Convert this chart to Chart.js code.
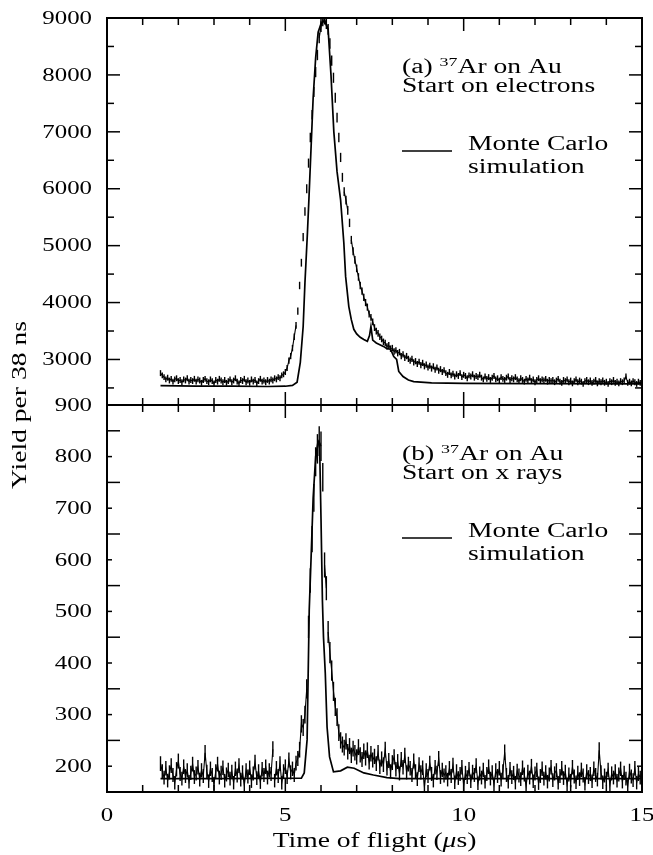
<!DOCTYPE html>
<html>
<head>
<meta charset="utf-8">
<script src="https://cdn.jsdelivr.net/npm/chart.js@4"></script>
<style>
html, body { margin: 0; padding: 0; background: #fff; }
#wrap { position: relative; width: 653px; height: 855px; }
canvas { position: absolute; left: 0; top: 0; width: 653px; height: 855px; }
</style>
</head>
<body>
<div id="wrap">
  <canvas id="chartA" width="653" height="855"></canvas>
  <canvas id="chartB" width="653" height="855"></canvas>
</div>
<script>
// time bins (us), regrouped from the 38 ns channels
var binStart = 1.5, binWidth = 0.05;

// (a) start on electrons - measured yield, one value per bin from 1.5 to 15.0 us
var yieldA = [
  2760, 2720, 2690, 2650, 2680, 2630, 2660, 2610, 2650, 2670, 2620, 2640, 2600, 2650, 2630, 2670, 2610, 2640, 2620, 2660,
  2610, 2650, 2630, 2590, 2640, 2660, 2620, 2600, 2650, 2620, 2580, 2640, 2610, 2660, 2630, 2600, 2640, 2590, 2620, 2650,
  2600, 2630, 2670, 2610, 2580, 2640, 2620, 2660, 2600, 2630, 2590, 2650, 2610, 2640, 2580, 2620, 2660, 2610, 2630, 2600,
  2640, 2610, 2650, 2630, 2670, 2650, 2690, 2670, 2720, 2740, 2780, 2850, 2980, 3060, 3200, 3400, 3600, 3850, 4300, 4700,
  5150, 5600, 6000, 6450, 6900, 7300, 7700, 8050, 8350, 8650, 8850, 8950, 8980, 8900, 8800, 8550, 8250, 7950, 7600, 7250,
  6900, 6550, 6200, 5950, 5800, 5620, 5400, 5100, 4900, 4750, 4600, 4450, 4300, 4200, 4090, 4000, 3920, 3800, 3740, 3660,
  3560, 3500, 3460, 3400, 3360, 3310, 3290, 3230, 3250, 3190, 3200, 3140, 3160, 3110, 3130, 3060, 3090, 3030, 3060, 3010,
  2980, 3010, 2950, 2970, 2920, 2960, 2900, 2940, 2880, 2910, 2860, 2890, 2840, 2880, 2820, 2860, 2800, 2830, 2780, 2810,
  2760, 2730, 2780, 2720, 2750, 2700, 2740, 2710, 2760, 2690, 2730, 2710, 2670, 2720, 2700, 2740, 2680, 2710, 2690, 2730,
  2680, 2650, 2700, 2660, 2690, 2640, 2680, 2710, 2650, 2670, 2630, 2690, 2660, 2640, 2680, 2700, 2640, 2670, 2650, 2690,
  2650, 2620, 2670, 2640, 2610, 2660, 2630, 2680, 2620, 2650, 2600, 2640, 2670, 2620, 2650, 2630, 2660, 2610, 2640, 2620,
  2640, 2600, 2630, 2660, 2610, 2590, 2640, 2620, 2650, 2600, 2630, 2580, 2620, 2650, 2600, 2630, 2610, 2570, 2620, 2640,
  2600, 2630, 2590, 2610, 2640, 2580, 2620, 2600, 2630, 2590, 2610, 2570, 2620, 2600, 2640, 2590, 2610, 2580, 2620, 2600,
  2630, 2700, 2590, 2610, 2580, 2620, 2600, 2570, 2610, 2590, 2620
];

// (b) start on x rays - measured yield, same bins
var yieldB = [
  205, 190, 178, 196, 172, 188, 201, 183, 168, 194, 210, 185, 176, 199, 181, 192, 170, 187, 204, 179,
  186, 198, 174, 192, 181, 226, 189, 171, 195, 183, 166, 190, 204, 178, 187, 197, 172, 184, 193, 176,
  189, 168, 195, 182, 201, 174, 188, 163, 192, 180, 197, 171, 186, 208, 177, 190, 169, 194, 183, 199,
  178, 192, 185, 233, 172, 196, 181, 205, 168, 190, 199, 179, 212, 188, 195, 183, 206, 215, 232, 282,
  275, 300, 350, 470, 560, 640, 720, 790, 815, 830, 820, 760, 590, 545, 460, 420, 385, 345, 315, 295,
  265, 250, 242, 236, 248, 228, 239, 221, 234, 226, 218, 237, 222, 213, 229, 216, 231, 208, 224, 212,
  219, 205, 226, 199, 214, 203, 232, 196, 211, 190, 207, 218, 194, 209, 186, 213, 198, 221, 188, 204,
  196, 183, 210, 190, 175, 203, 188, 197, 160, 192, 181, 206, 185, 172, 198, 187, 215, 179, 193, 182,
  188, 174, 196, 181, 202, 169, 190, 177, 185, 198, 163, 187, 179, 194, 171, 189, 183, 201, 167, 186,
  178, 193, 170, 185, 199, 176, 188, 165, 192, 181, 196, 174, 190, 227, 183, 170, 194, 179, 187, 168,
  191, 182, 175, 197, 184, 162, 189, 178, 200, 171, 186, 193, 167, 181, 195, 176, 188, 170, 184, 198,
  173, 186, 192, 168, 181, 196, 177, 189, 165, 184, 172, 198, 180, 169, 187, 175, 193, 182, 166, 190,
  179, 185, 171, 195, 183, 174, 231, 188, 169, 182, 176, 193, 164, 186, 178, 190, 172, 184, 195, 170,
  187, 176, 162, 191, 180, 173, 196, 168, 185, 178, 190
];

// Monte Carlo simulation curves
var simAx = [1.5, 2.5, 3.5, 4.5, 5.0, 5.2, 5.33, 5.42, 5.5, 5.55, 5.62, 5.66, 5.72, 5.78, 5.85, 5.92, 6.0, 6.1, 6.2, 6.28,
             6.36, 6.45, 6.55, 6.64, 6.69, 6.78, 6.85, 6.92, 7.0, 7.1, 7.2, 7.3, 7.36, 7.4, 7.45, 7.55, 7.65, 7.75, 7.85, 7.95,
             8.04, 8.12, 8.18, 8.3, 8.45, 8.6, 9.1, 10, 12, 15];
var simAy = [2540, 2530, 2530, 2525, 2530, 2545, 2600, 2950, 3580, 4350, 5230, 5800, 6700, 7600, 8300, 8750, 8900, 8950, 8800, 8000,
             7000, 6300, 5800, 5050, 4460, 3930, 3700, 3530, 3450, 3390, 3350, 3320, 3420, 3580, 3340, 3290, 3260, 3230, 3190, 3180,
             3050, 3000, 2790, 2700, 2640, 2610, 2590, 2580, 2575, 2570];
var simBx = [1.5, 3, 5.45, 5.53, 5.61, 5.67, 5.72, 5.78, 5.85, 5.92, 5.96, 6.0, 6.04, 6.07, 6.12, 6.17, 6.24, 6.35, 6.55, 6.74,
             6.93, 7.2, 7.47, 7.85, 8.2, 10, 15];
var simBy = [176, 176, 177, 187, 251, 503, 600, 720, 800, 830, 825, 680, 520, 450, 380, 276, 218, 189, 191, 198,
             196, 187, 183, 178, 176, 176, 176];

// axes
var xTicks = [0, 5, 10, 15];
var yTicksA = [3000, 4000, 5000, 6000, 7000, 8000, 9000];
var yTicksB = [200, 300, 400, 500, 600, 700, 800, 900];

var SX = 1.38;   // the original lettering is wide
var FONT = '"Liberation Serif", "Times New Roman", serif';

function txt(ctx, s, x, y, size, align, base, italic) {
    ctx.save();
    ctx.translate(x, y);
    ctx.scale(SX, 1);
    ctx.font = (italic ? 'italic ' : '') + size + 'px ' + FONT;
    ctx.textAlign = align || 'left';
    ctx.textBaseline = base || 'alphabetic';
    ctx.fillStyle = '#000';
    ctx.fillText(s, 0, 0);
    var w = ctx.measureText(s).width * SX;
    ctx.restore();
    return w;
}

function seg(ctx, x1, y1, x2, y2) {
    ctx.beginPath();
    ctx.moveTo(x1, y1);
    ctx.lineTo(x2, y2);
    ctx.stroke();
}

// frame, inward ticks and all lettering
var framePlugin = {
    id: 'frame',
    afterDraw: function(chart, args, o) {
        var ctx = chart.ctx, a = chart.chartArea, x = chart.scales.x, y = chart.scales.y;
        ctx.save();
        ctx.strokeStyle = '#000';

        ctx.lineWidth = 1.5;
        // x ticks every microsecond, top and bottom
        for (var t = 1; t < 15; t++) {
            var px = x.getPixelForValue(t);
            var len = (t % 5 === 0) ? 13 : 7;
            seg(ctx, px, a.top, px, a.top + len);
            seg(ctx, px, a.bottom, px, a.bottom - len);
        }
        // y ticks, labelled ones and halfway ones
        o.labels.forEach(function(v) {
            var py = y.getPixelForValue(v);
            seg(ctx, a.left, py, a.left + o.majorLen, py);
            seg(ctx, a.right, py, a.right - o.majorLen, py);
            var pm = y.getPixelForValue(v - o.half);
            if (pm < a.bottom - 2) {
                seg(ctx, a.left, pm, a.left + o.minorLen, pm);
                seg(ctx, a.right, pm, a.right - o.minorLen, pm);
            }
            txt(ctx, String(v), 92, py + 1, 18, 'right', 'middle');
        });

        ctx.lineWidth = 2;
        ctx.strokeRect(a.left, a.top, a.right - a.left, a.bottom - a.top);

        // panel note and legend
        var top = a.top, nx = 402;
        var w = txt(ctx, o.tag + ' ', nx, top + 55, 20);
        w += txt(ctx, '37', nx + w, top + 48, 13);
        txt(ctx, 'Ar on Au', nx + w, top + 55, 20);
        txt(ctx, o.start, nx, top + 74, 20);
        ctx.lineWidth = 1.6;
        seg(ctx, nx, top + 133, nx + 50, top + 133);
        txt(ctx, 'Monte Carlo', 468, top + 132, 20);
        txt(ctx, 'simulation', 468, top + 155, 20);

        if (o.bottomAxis) {
            xTicks.forEach(function(v) {
                txt(ctx, String(v), x.getPixelForValue(v), a.bottom + 24, 18, 'center', 'middle');
            });
            // x title with italic mu
            ctx.font = '20px ' + FONT;
            var w1 = ctx.measureText('Time of flight (').width * SX;
            var w3 = ctx.measureText('s)').width * SX;
            ctx.font = 'italic 20px ' + FONT;
            var w2 = ctx.measureText('\u03bc').width * SX;
            var sx = (a.left + a.right) / 2 - (w1 + w2 + w3) / 2;
            txt(ctx, 'Time of flight (', sx, 847, 20);
            txt(ctx, '\u03bc', sx + w1, 847, 20, 'left', 'alphabetic', true);
            txt(ctx, 's)', sx + w1 + w2, 847, 20);
            // y title, centred on the whole figure
            ctx.save();
            ctx.translate(21, 405);
            ctx.rotate(-Math.PI / 2);
            ctx.scale(SX, 1);
            ctx.font = '20px ' + FONT;
            ctx.textAlign = 'center';
            ctx.textBaseline = 'middle';
            ctx.fillStyle = '#000';
            ctx.fillText('Yield per 38 ns', 0, 0);
            ctx.restore();
        }
        ctx.restore();
    }
};

function toPoints(vals) {
    return vals.map(function(v, i) { return { x: binStart + i * binWidth, y: v }; });
}
function pairUp(xs, ys) {
    return xs.map(function(v, i) { return { x: v, y: ys[i] }; });
}

function makeChart(id, yields, simX, simY, yMin, yMax, padTop, padBottom, gap, panel) {
    return new Chart(document.getElementById(id), {
        type: 'scatter',
        data: {
            datasets: [{
                data: toPoints(yields),
                showLine: true,
                borderColor: '#000',
                borderWidth: 1.1,
                pointStyle: 'line',
                rotation: 90,
                pointBorderColor: '#000',
                pointBorderWidth: 1.4,
                // statistical error bar sqrt(N) drawn as a vertical dash
                pointRadius: function(c) {
                    var s = c.chart.scales.y, v = c.parsed ? c.parsed.y : 0;
                    if (!s || !(v > 0)) return 2;
                    return Math.max(2, Math.abs(s.getPixelForValue(v) - s.getPixelForValue(v + Math.sqrt(v))));
                },
                segment: {
                    borderColor: function(c) { return Math.abs(c.p1.y - c.p0.y) > gap ? 'rgba(0,0,0,0)' : '#000'; }
                },
                clip: 0
            }, {
                data: pairUp(simX, simY),
                showLine: true,
                borderColor: '#000',
                borderWidth: 1.7,
                pointRadius: 0,
                clip: 0
            }]
        },
        options: {
            responsive: false,
            animation: false,
            events: [],
            layout: { padding: { left: 107, right: 11, top: padTop, bottom: padBottom } },
            plugins: { legend: { display: false }, tooltip: { enabled: false }, frame: panel },
            scales: {
                x: { type: 'linear', min: 0, max: 15, display: false },
                y: { type: 'linear', min: yMin, max: yMax, display: false }
            }
        },
        plugins: [framePlugin]
    });
}

makeChart('chartA', yieldA, simAx, simAy, 2200, 9000, 18, 450, 12,
    { labels: yTicksA, half: 500, majorLen: 13, minorLen: 7, tag: '(a)', start: 'Start on electrons', bottomAxis: false });
makeChart('chartB', yieldB, simBx, simBy, 150, 900, 405, 63, 30,
    { labels: yTicksB, half: 50, majorLen: 5, minorLen: 13, tag: '(b)', start: 'Start on x rays', bottomAxis: true });
</script>
</body>
</html>
